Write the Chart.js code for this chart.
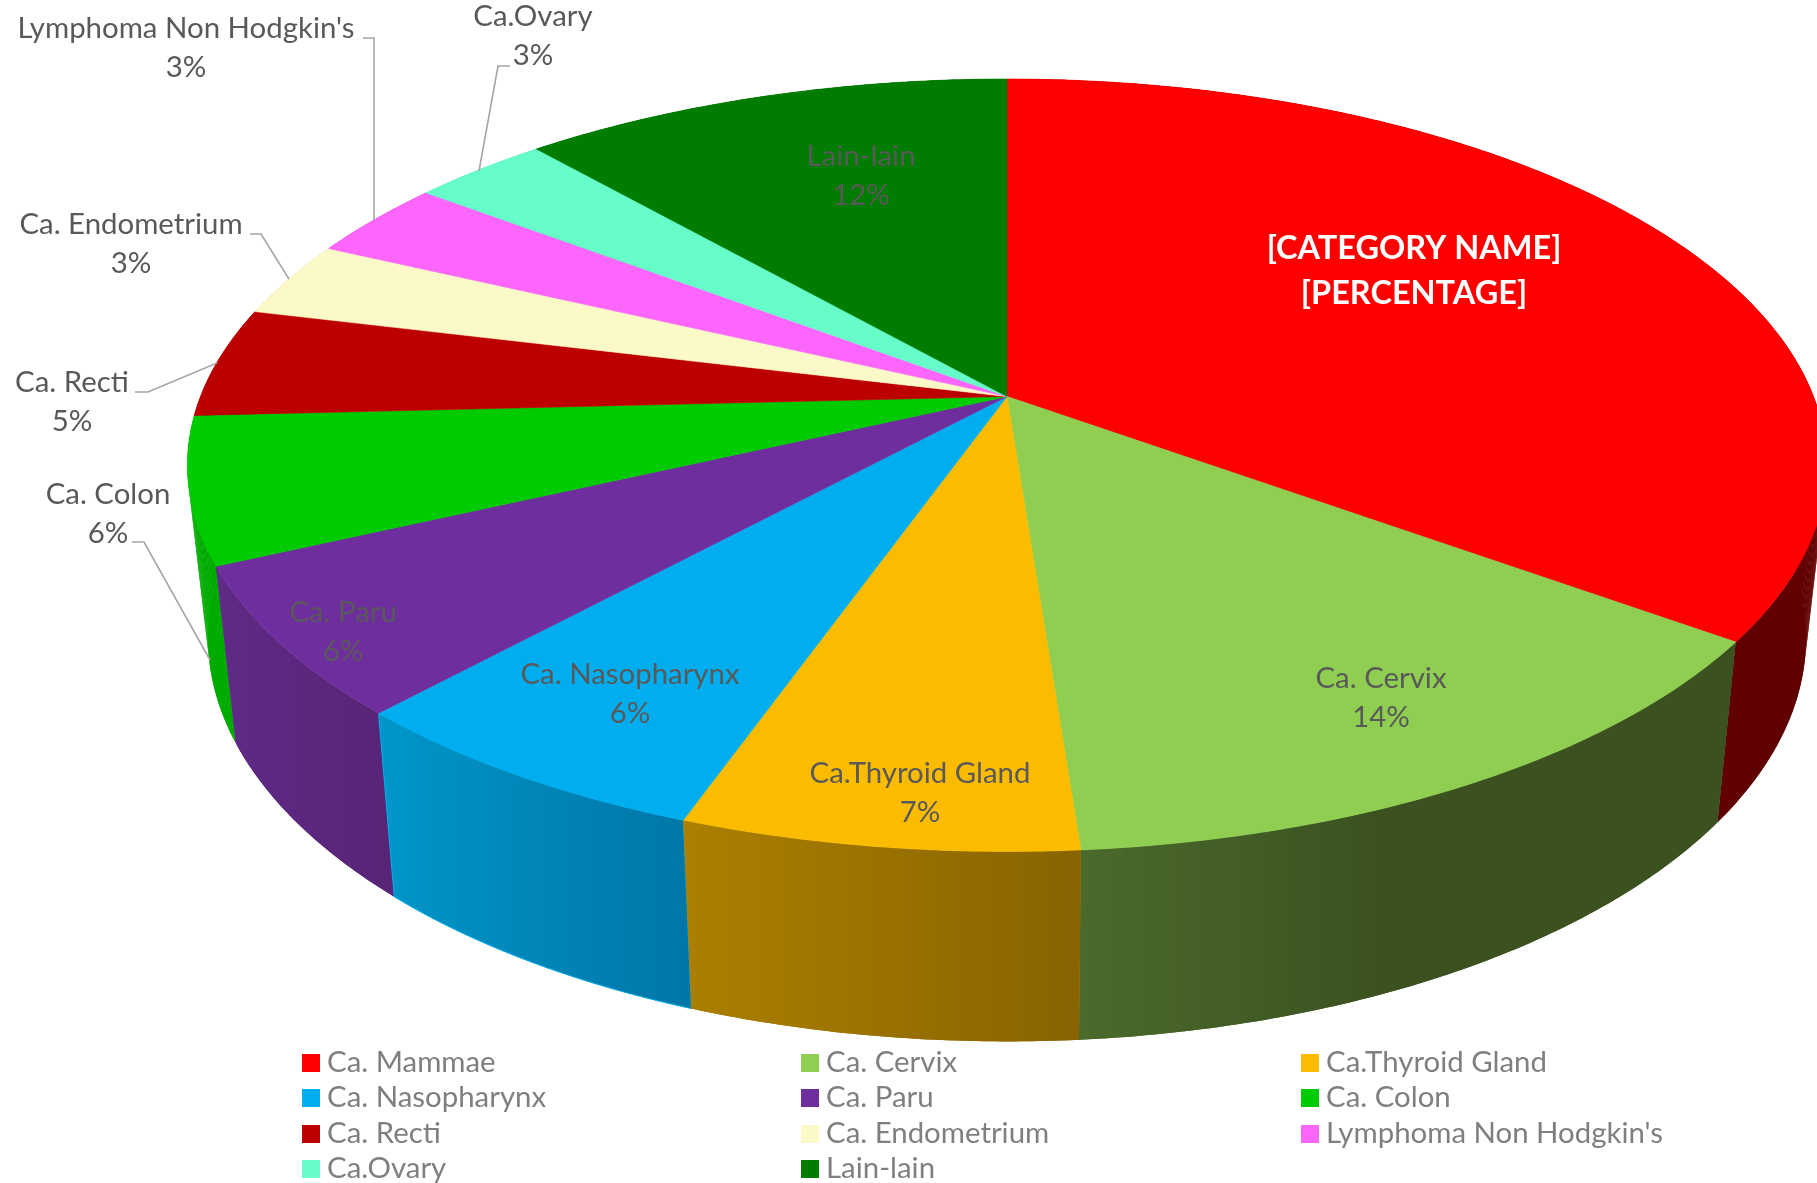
<!DOCTYPE html>
<html><head><meta charset="utf-8">
<style>html,body{margin:0;padding:0;background:#fff;overflow:hidden}canvas{display:block}</style>
<script src="https://cdn.jsdelivr.net/npm/chart.js@4/dist/chart.umd.js"></script>
</head><body><canvas id="c" width="1817" height="1183"></canvas>
<script>
const categories = ["Ca. Mammae","Ca. Cervix","Ca.Thyroid Gland","Ca. Nasopharynx","Ca. Paru","Ca. Colon","Ca. Recti","Ca. Endometrium","Lymphoma Non Hodgkin's","Ca.Ovary","Lain-lain"];
const values = [35.0,13.8,6.62,6.42,6.26,6.1,4.6,3.2,3.3,3.2,11.5];
const topColors = ["#ff0000","#8fce50","#fbbc00","#00aeef","#6e2e9e","#00cb00","#bc0000","#fbf9c8","#fd66fd","#66fdc9","#007d00"];
const wallLeft = ["#600000","#4b6a2b","#ab7f00","#0096c9","#5f2a86","#00ab00","#9a0000","#d0d0a0","#c050c0","#50c0a0","#006000"];
const wallRight = ["#600000","#3b5220","#876400","#0076a6","#582476","#00ab00","#9a0000","#d0d0a0","#c050c0","#50c0a0","#006000"];
const labelCenters = [[1414,249],[1381,679],[920,774],[630,675],[343,613],[108,495],[72,383],[131,225],[186,29],[533,17],[861,157]];
const leaders = {5:[[132,542],[144,542],[210,660]],6:[[135,392],[148,392],[217,363]],7:[[250,234],[261,234],[289,279]],8:[[363,38],[374,38],[374,220]],9:[[510,66],[498,66],[479,171]]};
const legendCols = [302,801,1301];
const legendRows = [1063,1098,1134,1169];
const FONT = 'Lato, "Open Sans", sans-serif';

// perspective of the pie's top face
const ax=1007, ay=396.5, A=806.5, B=374, K=0.178;
const project = a => { const u=Math.cos(a), v=Math.sin(a), w=1-K*v; return [ax+A*u/w, ay+B*v/w]; };
const lower = p => [ax+0.975*(p[0]-ax), ay+1.046*(p[1]-ay)+169];
const arcPts = (s,e) => { const n=Math.max(2,Math.ceil((e-s)/0.01)), r=[]; for(let i=0;i<=n;i++) r.push(project(s+(e-s)*i/n)); return r; };
const trace = (ctx,pts) => { pts.forEach((p,i)=> i?ctx.lineTo(p[0],p[1]):ctx.moveTo(p[0],p[1])); };

const pie3d = {
  id:'pie3d',
  beforeDatasetDraw(chart,args){
    const ctx=chart.ctx, arcs=chart.getDatasetMeta(args.index).data;
    const order=arcs.map((_,i)=>i).sort((i,j)=>{
      const m=k=>Math.sin((arcs[k].startAngle+arcs[k].endAngle)/2); return m(i)-m(j);});
    ctx.save();
    order.forEach(i=>{
      const top=arcPts(arcs[i].startAngle,arcs[i].endAngle), bot=top.map(lower);
      const xs=top.concat(bot).map(p=>p[0]);
      const g=ctx.createLinearGradient(Math.min(...xs),0,Math.max(...xs),0);
      g.addColorStop(0,wallLeft[i]); g.addColorStop(i===1?0.45:1,wallRight[i]); if(i===1) g.addColorStop(1,wallRight[i]);
      ctx.fillStyle=g;
      // every short step of the wall, for the silhouette where the rim turns
      for(let s=0;s<top.length-1;s++){
        ctx.beginPath(); ctx.moveTo(...top[s]); ctx.lineTo(...top[s+1]); ctx.lineTo(...bot[s+1]); ctx.lineTo(...bot[s]); ctx.closePath();
        ctx.fill();
      }
      // the whole wall on top, closing the seams between the steps
      const back=[...bot].reverse();
      ctx.beginPath(); trace(ctx,top); back.forEach(p=>ctx.lineTo(p[0],p[1])); ctx.closePath();
      ctx.fill();
      if(i===3){ctx.strokeStyle=topColors[i];ctx.lineWidth=1;ctx.stroke();}
    });
    arcs.forEach((arc,i)=>{
      ctx.beginPath(); ctx.moveTo(ax,ay); arcPts(arc.startAngle,arc.endAngle).forEach(p=>ctx.lineTo(p[0],p[1])); ctx.closePath();
      ctx.fillStyle=topColors[i]; ctx.strokeStyle=topColors[i]; ctx.lineWidth=0.6; ctx.fill(); ctx.stroke();
    });
    ctx.restore();
    return false;
  },
  afterDraw(chart){
    const ctx=chart.ctx, data=chart.data.datasets[0].data, total=data.reduce((a,b)=>a+b,0);
    ctx.save();
    ctx.strokeStyle='#a6a6a6'; ctx.lineWidth=1.6;
    Object.values(leaders).forEach(l=>{ctx.beginPath();trace(ctx,l);ctx.stroke();});
    ctx.textAlign='center'; ctx.textBaseline='middle';
    categories.forEach((name,i)=>{
      const [x,y]=labelCenters[i];
      if(i===0){
        ctx.font='bold 32.5px '+FONT; ctx.fillStyle='#ffffff';
        ctx.fillText('[CATEGORY NAME]',x,y); ctx.fillText('[PERCENTAGE]',x,y+45);
      } else {
        ctx.font='29.4px '+FONT; ctx.fillStyle='#595959';
        ctx.fillText(name,x,y); ctx.fillText(Math.round(data[i]/total*100)+'%',x,y+39);
      }
    });
    ctx.textAlign='left'; ctx.font='29.4px '+FONT;
    categories.forEach((name,i)=>{
      const x=legendCols[i%3], y=legendRows[Math.floor(i/3)];
      ctx.fillStyle=topColors[i]; ctx.fillRect(x,y-9,18,18);
      ctx.fillStyle='#7f7f7f'; ctx.fillText(name,x+25,y);
    });
    ctx.restore();
  }
};

new Chart(document.getElementById('c'),{
  type:'pie',
  data:{labels:categories,datasets:[{data:values,backgroundColor:topColors,borderWidth:0}]},
  options:{responsive:false,animation:false,layout:{padding:0},plugins:{legend:{display:false},tooltip:{enabled:false}}},
  plugins:[pie3d]
});
</script></body></html>
